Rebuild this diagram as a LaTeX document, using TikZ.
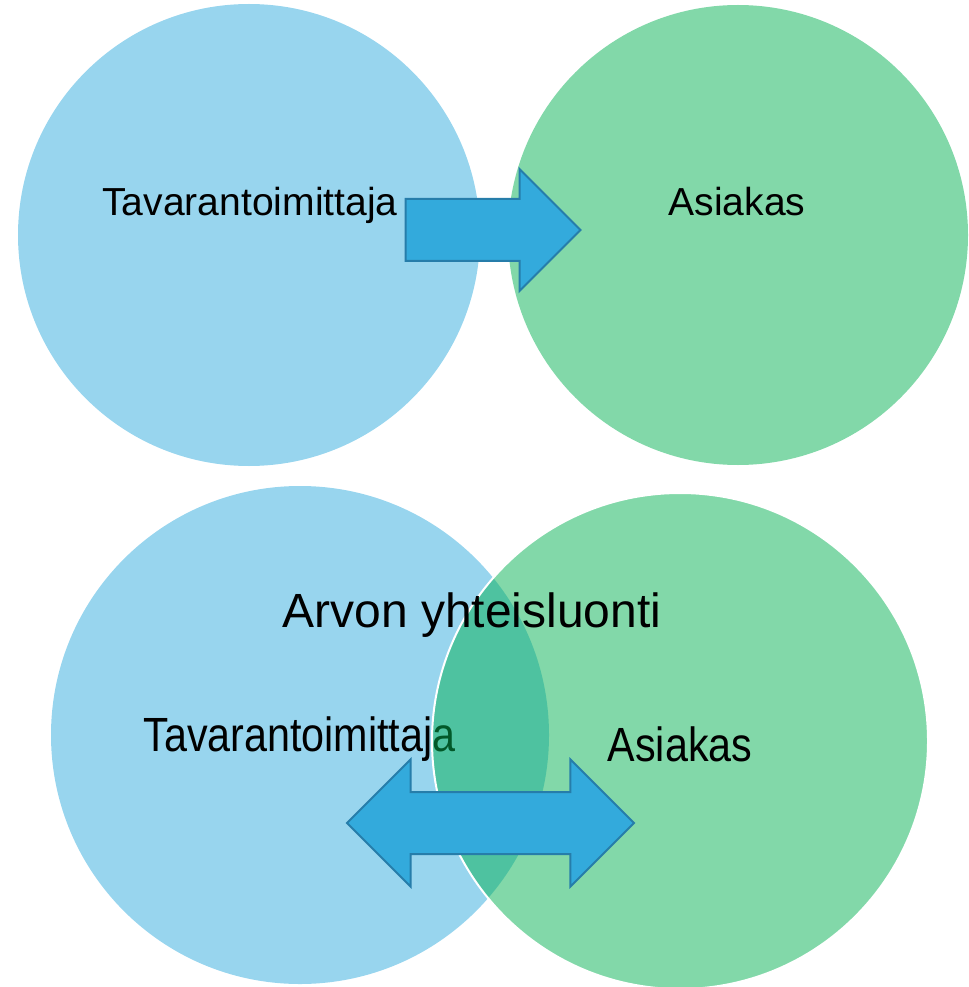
\documentclass[tikz,border=0pt]{standalone}
\usepackage{fontspec}
\setmainfont{Liberation Sans}
\usepackage{tikz}
\usetikzlibrary{shapes.arrows, positioning, calc}
\definecolor{supblue}{RGB}{152,213,238}
\definecolor{custgreen}{RGB}{130,216,169}
\definecolor{mixgreen}{RGB}{5,177,83}
\definecolor{arrfill}{RGB}{51,170,220}
\definecolor{arrline}{RGB}{38,125,170}

\begin{document}
\begin{tikzpicture}[x=0.75pt, y=-0.75pt,
  supcirc/.style={circle, fill=supblue, inner sep=0pt},
  custcirc/.style={circle, fill=custgreen, inner sep=0pt},
  overcirc/.style={circle, fill=mixgreen, fill opacity=0.5, draw=white, draw opacity=1, line width=1.5pt, inner sep=0pt},
  lbl/.style={anchor=base, inner sep=0pt, font=\fontsize{29.3}{32}\selectfont},
  lblwide/.style={anchor=base, inner sep=0pt, xscale=0.86, font=\fontsize{36}{40}\selectfont},
  onearr/.style={single arrow, fill=arrfill, draw=arrline, line width=1.5pt, inner xsep=0pt, inner ysep=22.5pt, single arrow head extend=22.5pt},
  twoarr/.style={double arrow, fill=arrfill, draw=arrline, line width=1.5pt, inner xsep=0pt, inner ysep=22.5pt, double arrow head extend=24.4pt}
]
\useasboundingbox (0,0) rectangle (968,987);
% upper pair: supplier gives to customer
\node[supcirc, minimum size=346.5pt] (supA) at (249,235) {};
\node[custcirc, minimum size=345pt] (custA) at (738,235) {};
\node[lbl] (supAtxt) at (250,216) {Tavarantoimittaja};
\node[lbl] (custAtxt) at (737,216) {Asiakas};
\node[onearr, minimum height=131.25pt] (give) at (477.5,230) {};
% lower pair: overlapping circles
\node[supcirc, minimum size=373.5pt] (supB) at (300,735) {};
\node[lblwide] (supBtxt) at (299.5,751) {Tavarantoimittaja};
\node[overcirc, minimum size=372pt] (custB) at (680,741) {};
\node[lblwide] (custBtxt) at (680,761) {Asiakas};
\node[anchor=base, inner sep=0pt, font=\fontsize{36}{40}\selectfont] (cocreate) at (472,627) {Arvon yhteisluonti};
\node[twoarr, minimum height=215.25pt] (share) at (490.5,823) {};
\end{tikzpicture}
\end{document}
